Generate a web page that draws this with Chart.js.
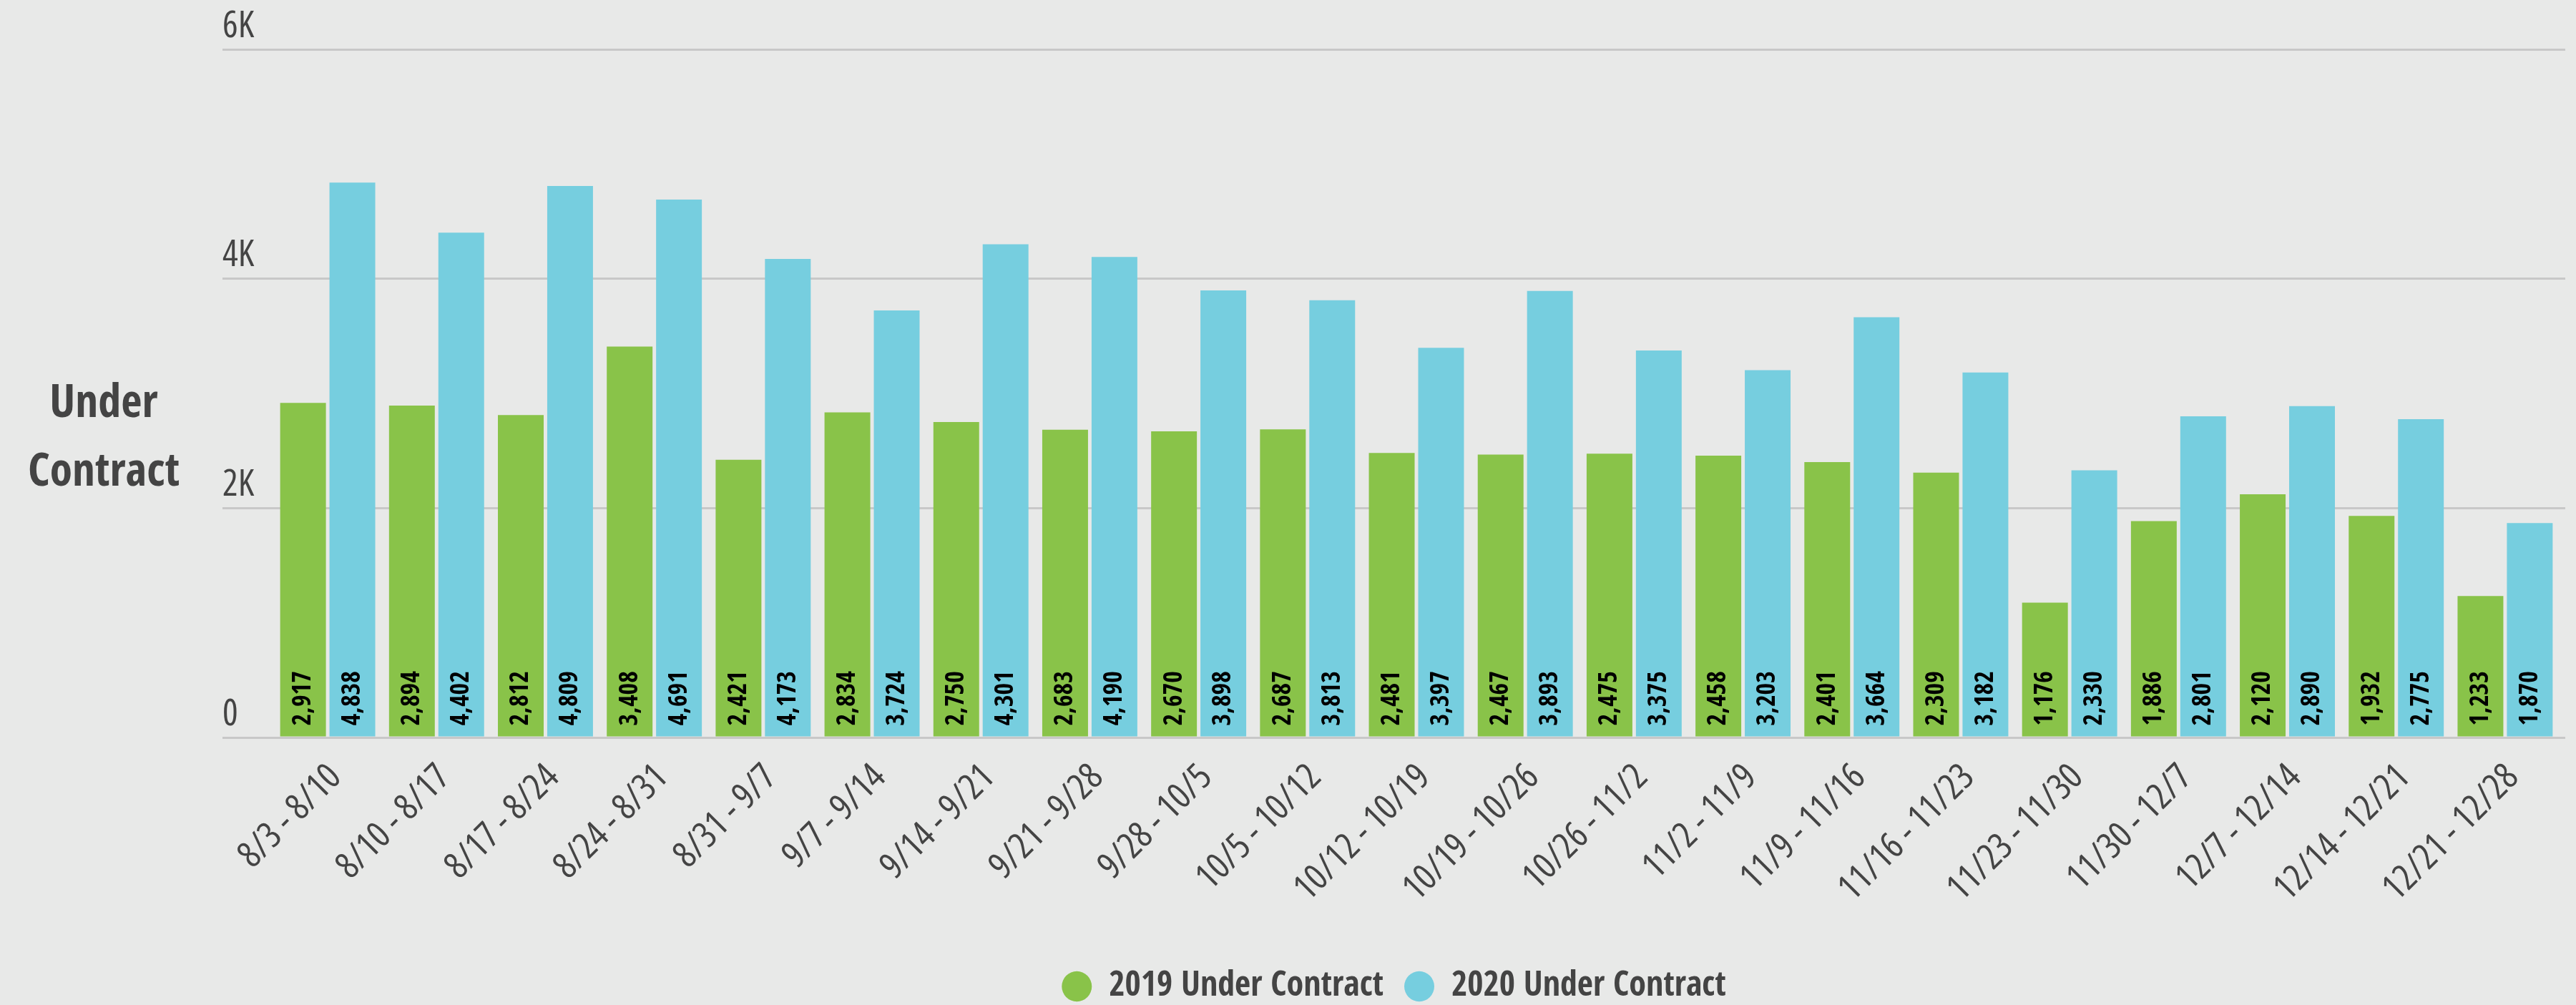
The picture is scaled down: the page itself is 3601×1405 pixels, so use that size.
<!DOCTYPE html>
<html>
<head>
<meta charset="utf-8">
<script src="https://cdn.jsdelivr.net/npm/chart.js@4.4.1/dist/chart.umd.min.js"></script>
<style>
  body { margin: 0; background: #e8e9e8; }
  #wrap { position: relative; width: 3601px; height: 1405px; }
  #ytitle {
    position: absolute; left: 0; top: 511px; width: 290px;
    text-align: center; font-family: "Open Sans", sans-serif; font-weight: 700;
    font-stretch: 81%; font-size: 64px; line-height: 96px; color: #444;
  }
</style>
</head>
<body>
<div id="wrap">
  <canvas id="under_contract"></canvas>
  <div id="ytitle">Under<br>Contract</div>
</div>
<script>
const WEEKS = [
  "8/3 - 8/10", "8/10 - 8/17", "8/17 - 8/24", "8/24 - 8/31", "8/31 - 9/7",
  "9/7 - 9/14", "9/14 - 9/21", "9/21 - 9/28", "9/28 - 10/5", "10/5 - 10/12",
  "10/12 - 10/19", "10/19 - 10/26", "10/26 - 11/2", "11/2 - 11/9", "11/9 - 11/16",
  "11/16 - 11/23", "11/23 - 11/30", "11/30 - 12/7", "12/7 - 12/14", "12/14 - 12/21",
  "12/21 - 12/28"
];
const UNDER_CONTRACT_2019 = [
  2917, 2894, 2812, 3408, 2421, 2834, 2750, 2683, 2670, 2687, 2481,
  2467, 2475, 2458, 2401, 2309, 1176, 1886, 2120, 1932, 1233
];
const UNDER_CONTRACT_2020 = [
  4838, 4402, 4809, 4691, 4173, 3724, 4301, 4190, 3898, 3813, 3397,
  3893, 3375, 3203, 3664, 3182, 2330, 2801, 2890, 2775, 1870
];
const Y_TICKS = [0, 2000, 4000, 6000];
const SERIES_NAMES = ["2019 Under Contract", "2020 Under Contract"];

const GREEN = "#89c349";
const BLUE = "#76cedf";
const TEXT = "#444444";
const GRID = "#c8c8c8";
const CONDENSED = "'Open Sans Condensed', 'Open Sans', sans-serif";
// condensed through the font shorthand (weight slot is passed through as-is)
const AXIS_FONT = { family: "'Open Sans', sans-serif", weight: "400 condensed", size: 51 };

window.onload = init;

// value labels, rotated, sitting at the foot of each bar
const barLabels = {
  id: "barLabels",
  afterDatasetsDraw(chart) {
    const ctx = chart.ctx;
    chart.data.datasets.forEach(function (ds, i) {
      chart.getDatasetMeta(i).data.forEach(function (bar, j) {
        ctx.save();
        ctx.translate(bar.x, bar.base - 15);
        ctx.rotate(-Math.PI / 2);
        ctx.font = "700 36px " + CONDENSED;
        ctx.fillStyle = "#000";
        ctx.textAlign = "left";
        ctx.textBaseline = "middle";
        ctx.fillText(ds.data[j].toLocaleString("en-US"), 0, 1);
        ctx.restore();
      });
    });
  },
};

function fixWidth(w) {
  return function (scale) {
    scale.width = w;
    scale.paddingTop = 0;
    scale.paddingBottom = 0;
  };
}

function init() {
  const ctx = document.getElementById("under_contract");

  let options = {
    responsive: true,
    maintainAspectRatio: false,
    animation: false,
    layout: { padding: { left: 311, right: 15, top: 69, bottom: -8 } },
    plugins: {
      tooltip: { enabled: false },
      legend: {
        position: "bottom",
        labels: {
          usePointStyle: true,
          pointStyle: "circle",
          boxHeight: 30,
          pointStyleWidth: 42,
          padding: 29,
          color: TEXT,
          font: { family: CONDENSED, weight: "700", size: 48 },
        },
      },
    },
    scales: {
      x: {
        grid: { display: false },
        border: { display: false },
        ticks: {
          autoSkip: false,
          minRotation: 45,
          maxRotation: 45,
          padding: 18,
          labelOffset: 11,
          color: TEXT,
          font: AXIS_FONT,
        },
        afterFit: function (scale) {
          scale.height = 295;
          scale.paddingLeft = 0;
          scale.paddingRight = 0;
        },
      },
      y: {
        min: 0,
        max: 6000,
        afterBuildTicks: function (scale) {
          scale.ticks = Y_TICKS.map(function (v) { return { value: v }; });
        },
        grid: { color: GRID, lineWidth: 3, tickLength: 71, drawTicks: true },
        border: { display: false },
        ticks: {
          crossAlign: "far",
          labelOffset: -32,
          color: TEXT,
          font: AXIS_FONT,
          callback: function (v) { return v === 0 ? "0" : v / 1000 + "K"; },
        },
        afterFit: fixWidth(71),
      },
      y2: {
        position: "right",
        min: 0,
        max: 6000,
        afterBuildTicks: function (scale) {
          scale.ticks = Y_TICKS.map(function (v) { return { value: v }; });
        },
        grid: { color: GRID, lineWidth: 3, tickLength: 8, drawOnChartArea: false },
        border: { display: false },
        ticks: { display: false },
        afterFit: fixWidth(8),
      },
    },
  };

  let chart = new Chart(ctx, {
    type: "bar",
    data: {
      labels: WEEKS,
      datasets: [
        {
          label: SERIES_NAMES[0],
          data: UNDER_CONTRACT_2019,
          backgroundColor: GREEN,
          barPercentage: 0.928,
          categoryPercentage: 0.906,
        },
        {
          label: SERIES_NAMES[1],
          data: UNDER_CONTRACT_2020,
          backgroundColor: BLUE,
          barPercentage: 0.928,
          categoryPercentage: 0.906,
        },
      ],
    },
    options: options,
    plugins: [barLabels],
  });
}
</script>
</body>
</html>
